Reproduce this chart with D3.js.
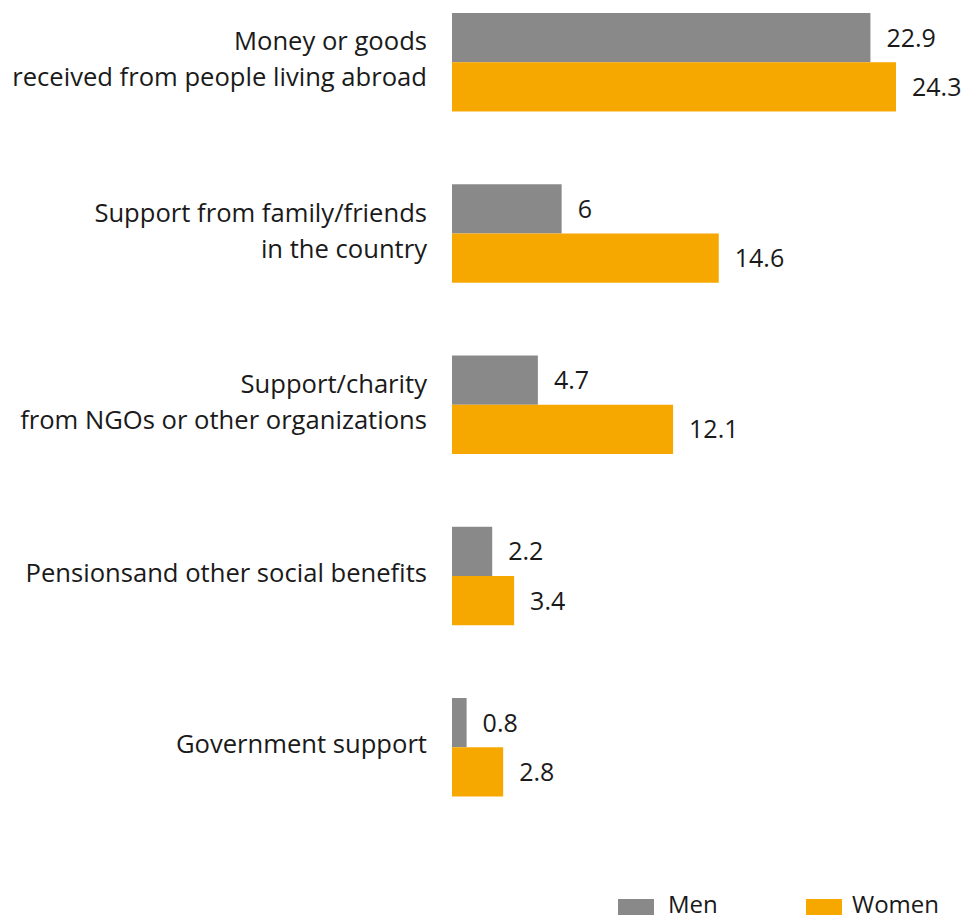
<!DOCTYPE html>
<html>
<head>
<meta charset="utf-8">
<script src="https://cdn.jsdelivr.net/npm/d3@7"></script>
<style>
  html, body { margin: 0; padding: 0; background: #fff; }
  svg { display: block; }
  text { font-family: "Open Sans", "Noto Sans", sans-serif; fill: #1a1a1a; }
</style>
</head>
<body>
<svg id="chart" width="965" height="920"></svg>
<script>
const categories = [
  ['Money or goods', 'received from people living abroad'],
  ['Support from family/friends', 'in the country'],
  ['Support/charity', 'from NGOs or other organizations'],
  ['Pensionsand other social benefits'],
  ['Government support']
]
const seriesNames = ['Men', 'Women']
const menValues = [22.9, 6, 4.7, 2.2, 0.8]
const womenValues = [24.3, 14.6, 12.1, 3.4, 2.8]
const colors = ['#898989', '#f6a800']

const svg = d3.select('#chart')
const values = [menValues, womenValues]

const x = d3.scaleLinear()
  .domain([0, 24.3])
  .range([452, 896])

const y = d3.scaleBand()
  .domain(d3.range(categories.length))
  .range([13, 796.5])
  .paddingInner(0.425)
  .paddingOuter(0)

const ySub = d3.scaleBand()
  .domain(seriesNames)
  .range([0, y.bandwidth()])

const groups = svg.selectAll('g.group')
  .data(categories)
  .enter()
  .append('g')
  .attr('class', 'group')
  .attr('transform', (d, i) => 'translate(0,' + y(i) + ')')

groups.each(function (lines, i) {
  const g = d3.select(this)
  seriesNames.forEach((name, s) => {
    const v = values[s][i]
    g.append('rect')
      .attr('x', x(0))
      .attr('y', ySub(name))
      .attr('width', x(v) - x(0))
      .attr('height', ySub.bandwidth())
      .attr('fill', colors[s])
    g.append('text')
      .attr('x', x(v) + 16)
      .attr('y', ySub(name) + ySub.bandwidth() / 2)
      .attr('dy', '0.36em')
      .attr('font-size', 25)
      .text(v)
  })

  // category label, centred on the group
  const lineHeight = 36
  const mid = y.bandwidth() / 2 - 3
  const label = g.append('text')
    .attr('text-anchor', 'end')
    .attr('font-size', 25.6)
  lines.forEach((line, k) => {
    label.append('tspan')
      .attr('x', 427)
      .attr('y', mid + (k - (lines.length - 1) / 2) * lineHeight)
      .attr('dy', '0.36em')
      .text(line)
  })
})

// legend
const legendX = [618, 806]
const legend = svg.selectAll('g.legend')
  .data(seriesNames)
  .enter()
  .append('g')
  .attr('class', 'legend')
  .attr('transform', (d, i) => 'translate(' + legendX[i] + ',899)')

legend.append('rect')
  .attr('width', 36)
  .attr('height', 16)
  .attr('fill', (d, i) => colors[i])

legend.append('text')
  .attr('x', (d, i) => i === 0 ? 50 : 46)
  .attr('y', 14)
  .attr('font-size', 24)
  .text(d => d)
</script>
</body>
</html>
